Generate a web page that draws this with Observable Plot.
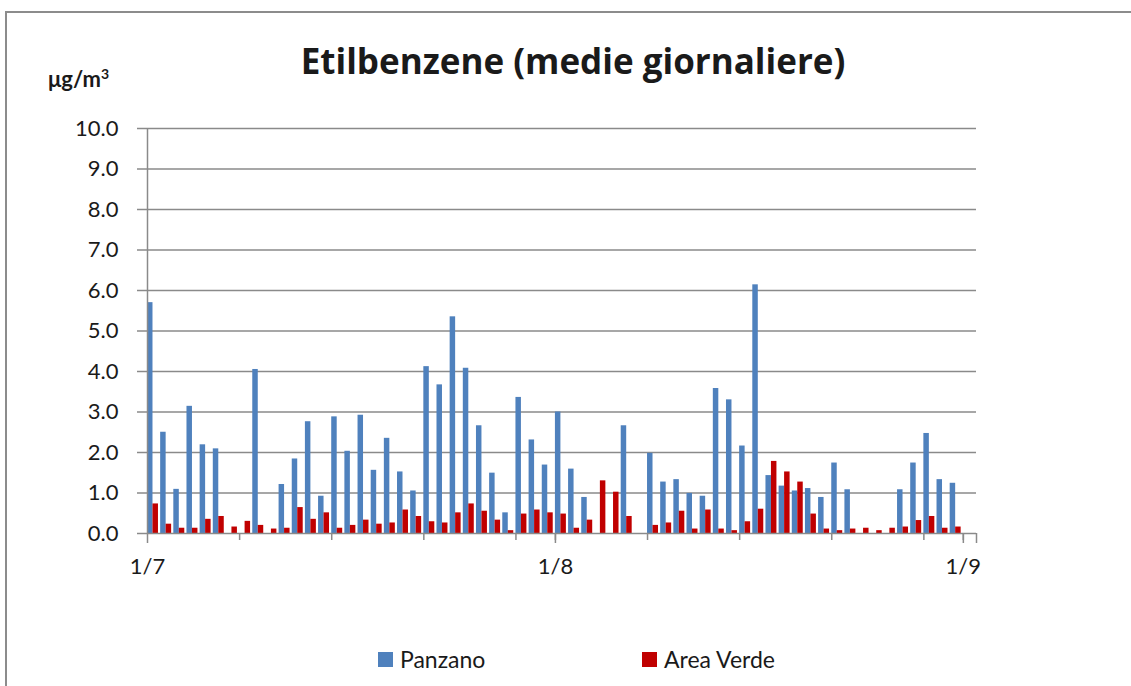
<!DOCTYPE html>
<html>
<head>
<meta charset="utf-8">
<script src="https://cdn.jsdelivr.net/npm/d3@7"></script>
<script src="https://cdn.jsdelivr.net/npm/@observablehq/plot@0.6"></script>
<style>
  body { margin: 0; background: #fff; }
  #wrap { position: relative; width: 1131px; height: 686px; overflow: hidden; font-family: Lato, "Open Sans", sans-serif; color: #1a1a1a; }
  #frame { position: absolute; left: 5px; top: 11px; width: 1200px; height: 700px; border-top: 2px solid #8c8c8c; border-left: 2px solid #8c8c8c; }
  #title { position: absolute; left: 0; width: 1146px; top: 37px; text-align: center; font-family: "Open Sans", Lato, sans-serif; font-weight: bold; font-size: 35px; }
  #unit { position: absolute; left: 48px; top: 65px; font-weight: bold; font-size: 22px; }
  #chart { position: absolute; left: 0; top: 100px; }
  .leg { position: absolute; top: 645px; font-size: 23px; display: flex; align-items: center; }
  .sw { width: 15px; height: 15px; margin-right: 7px; }
</style>
</head>
<body>
<div id="wrap">
  <div id="frame"></div>
  <div id="title">Etilbenzene (medie giornaliere)</div>
  <div id="unit">μg/m<sup style="font-size:14px;vertical-align:8px">3</sup></div>
  <div id="chart"></div>
  <div class="leg" style="left:378px"><div class="sw" style="background:#4F81BD"></div>Panzano</div>
  <div class="leg" style="left:642px"><div class="sw" style="background:#C00000"></div>Area Verde</div>
</div>
<script>
// Series (one value per day, 1 July – 31 August; null = no data)
const panzano = [
  5.70, 2.50, 1.09, 3.14, 2.19, 2.09, null, null, 4.05, null,
  1.21, 1.84, 2.76, 0.92, 2.88, 2.03, 2.92, 1.56, 2.35, 1.52,
  1.05, 4.12, 3.67, 5.35, 4.08, 2.66, 1.49, 0.51, 3.36, 2.31,
  1.69, 3.00, 1.59, 0.89, null, null, 2.66, null, 1.98, 1.27,
  1.33, 0.99, 0.92, 3.58, 3.30, 2.16, 6.14, 1.43, 1.17, 1.05,
  1.11, 0.89, 1.74, 1.08, null, null, null, 1.08, 1.74, 2.47,
  1.33, 1.24
];
const areaVerde = [
  0.73, 0.23, 0.13, 0.13, 0.35, 0.42, 0.16, 0.30, 0.20, 0.11,
  0.13, 0.64, 0.35, 0.51, 0.13, 0.20, 0.33, 0.23, 0.26, 0.58,
  0.42, 0.29, 0.26, 0.51, 0.73, 0.55, 0.33, 0.07, 0.48, 0.58,
  0.51, 0.48, 0.13, 0.33, 1.30, 1.02, 0.42, null, 0.20, 0.26,
  0.55, 0.11, 0.58, 0.11, 0.07, 0.29, 0.60, 1.78, 1.52, 1.27,
  0.48, 0.11, 0.07, 0.11, 0.13, 0.07, 0.13, 0.16, 0.32, 0.42,
  0.13, 0.16
];
const seriesNames = ["Panzano", "Area Verde"];
const seriesColors = ["#4F81BD", "#C00000"];
const yTicks = [0, 1, 2, 3, 4, 5, 6, 7, 8, 9, 10];
const monthTickLabels = ["1/7", "1/8", "1/9", ""];

const start = new Date(Date.UTC(2012, 6, 1));
const end = new Date(Date.UTC(2012, 8, 2));
const days = d3.utcDay.range(start, d3.utcDay.offset(start, panzano.length));
const weekTicks = d3.utcDay.every(7).range(start, end).filter((d, i) => i > 0);
const monthTicks = [start, new Date(Date.UTC(2012, 7, 1)), new Date(Date.UTC(2012, 8, 1)), end];

const dataP = days.map((date, i) => ({date, value: panzano[i]})).filter(d => d.value != null);
const dataA = days.map((date, i) => ({date, value: areaVerde[i]})).filter(d => d.value != null);

const grey = "#8a8a8a";
const chart = Plot.plot({
  width: 1131,
  height: 520,
  marginLeft: 147,
  marginRight: 155,
  marginTop: 28,
  marginBottom: 87,
  style: {fontFamily: "Lato, 'Open Sans', sans-serif", fontSize: "22px", color: "#1a1a1a", background: "transparent"},
  x: {type: "utc", domain: [start, end]},
  y: {domain: [0, 10]},
  marks: [
    Plot.gridY(yTicks.slice(1), {stroke: grey, strokeOpacity: 1, strokeWidth: 1.5}),
    Plot.rect(dataP, {x1: "date", x2: d => d3.utcHour.offset(d.date, 10), y1: 0, y2: "value", fill: seriesColors[0]}),
    Plot.rect(dataA, {x1: d => d3.utcHour.offset(d.date, 10), x2: d => d3.utcHour.offset(d.date, 20), y1: 0, y2: "value", fill: seriesColors[1]}),
    Plot.ruleX([start], {stroke: grey, strokeWidth: 1.5}),
    Plot.ruleY([0], {stroke: grey, strokeWidth: 1.5}),
    Plot.axisY(yTicks, {tickSize: 10, tickPadding: 19, tickFormat: d => d.toFixed(1), stroke: grey, strokeWidth: 1.5, label: null, fill: "#1a1a1a"}),
    Plot.axisX(weekTicks, {tickSize: 7, tickFormat: () => "", stroke: grey, strokeWidth: 1.5, label: null}),
    Plot.axisX(monthTicks, {tickSize: 10, tickPadding: 15, tickFormat: (d, i) => monthTickLabels[i], stroke: grey, strokeWidth: 1.5, label: null, fill: "#1a1a1a"})
  ]
});
document.getElementById("chart").appendChild(chart);
</script>
</body>
</html>
